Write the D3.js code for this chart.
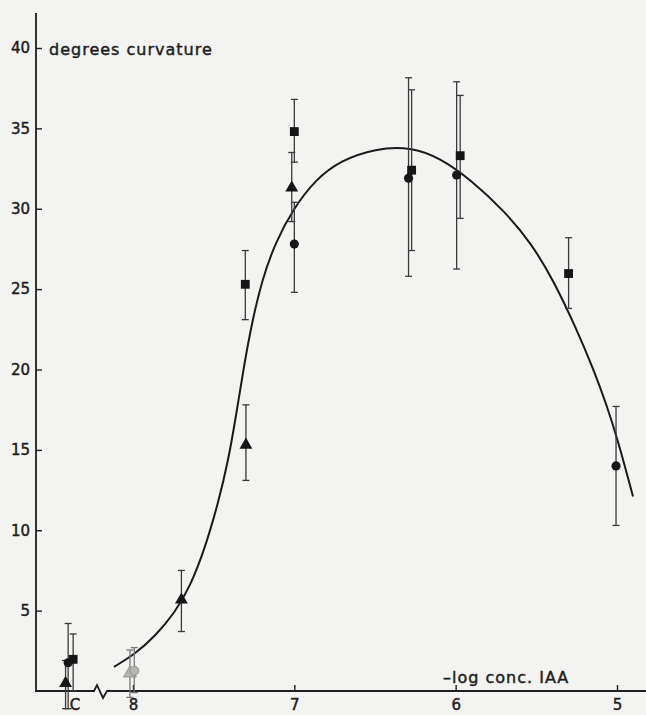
<!DOCTYPE html>
<html>
<head>
<meta charset="utf-8">
<script src="https://cdnjs.cloudflare.com/ajax/libs/d3/7.8.5/d3.min.js"></script>
<style>
	body { margin: 0; background: #f3f3f1; }
	#chart { width: 646px; height: 715px; }
	.lbl { font-family: "DejaVu Sans", sans-serif; font-size: 15px; fill: #1e1e1e; stroke: #1e1e1e; stroke-width: 0.45px; }
	.big { font-size: 16px; letter-spacing: 1px; }
</style>
</head>
<body>
<div id="chart"></div>
<script>
// tick values
var xTicks = [8, 7, 6, 5];
var yTicks = [5, 10, 15, 20, 25, 30, 35, 40];
var controlPos = 8.36; // where the "C" label sits on the -log scale

// squares: x (-log conc), mean, low, high
var sqX = [8.371, 7.304, 7.0, 6.273, 5.972, 5.30];
var sqY = [1.97, 25.3, 34.8, 32.4, 33.3, 25.97];
var sqLo = [0.0, 23.1, 32.9, 27.4, 29.4, 23.8];
var sqHi = [3.55, 27.4, 36.8, 37.4, 37.05, 28.2];

// circles
var ciX = [8.402, 7.0, 6.292, 5.994, 5.006];
var ciY = [1.76, 27.8, 31.9, 32.1, 14.0];
var ciLo = [-1.1, 24.8, 25.8, 26.25, 10.3];
var ciHi = [4.2, 30.4, 38.15, 37.9, 17.7];

// triangles
var trX = [8.418, 7.70, 7.30, 7.016];
var trY = [0.48, 5.67, 15.3, 31.3];
var trLo = [-1.1, 3.7, 13.1, 29.2];
var trHi = [1.9, 7.5, 17.8, 33.5];

// pale (open) symbols at 10^-8
var paleX = [8.019, 7.992];
var paleY = [1.1, 1.26];
var paleLo = [-0.4, -0.1];
var paleHi = [2.55, 2.7];
var paleType = ["triangle", "circle"];

// fitted curve
var curveX = [8.118, 7.988, 7.863, 7.739, 7.646, 7.553, 7.472, 7.410, 7.360, 7.311, 7.261, 7.199, 7.118, 7.006,
	6.870, 6.714, 6.497, 6.280, 6.093, 5.907, 5.702, 5.534, 5.391, 5.255, 5.149, 5.068, 4.994, 4.901];
var curveY = [1.5, 2.3, 3.4, 4.9, 6.5, 8.9, 11.7, 14.3, 17.2, 20.3, 23.0, 25.6, 27.9, 30.0,
	31.8, 33.0, 33.75, 33.85, 33.15, 31.8, 29.9, 27.9, 25.5, 22.6, 20.1, 17.9, 15.6, 12.1];

var totalWidth = 646, totalHeight = 715;
var axisX = 36, axisY = 691, axisTop = 13;

var xScale = d3.scaleLinear().domain([8, 5]).range([133, 617]);
var yScale = d3.scaleLinear().domain([0, 40]).range([axisY, 48]);

var svg = d3.select("#chart").append("svg")
	.attr("width", totalWidth)
	.attr("height", totalHeight);

function zip(xs, ys, lo, hi, type) {
	return xs.map(function (x, i) {
		return { x: x, y: ys[i], lo: lo[i], hi: hi[i], type: Array.isArray(type) ? type[i] : type };
	});
}

var points = [].concat(
	zip(sqX, sqY, sqLo, sqHi, "square"),
	zip(ciX, ciY, ciLo, ciHi, "circle"),
	zip(trX, trY, trLo, trHi, "triangle"),
	zip(paleX, paleY, paleLo, paleHi, paleType).map(function (d) { d.pale = true; return d; })
);

// axes
var yAxis = d3.axisLeft(yScale)
	.tickValues(yTicks)
	.tickSizeInner(-6)
	.tickSizeOuter(0)
	.tickPadding(6);

var yAxisGroup = svg.append("g")
	.attr("transform", "translate(" + axisX + ",0)")
	.call(yAxis);
yAxisGroup.select(".domain").remove();
yAxisGroup.selectAll(".tick line").attr("stroke", "#1e1e1e").attr("stroke-width", 1.4);
yAxisGroup.selectAll(".tick text").attr("class", "lbl").attr("font-size", null).attr("font-family", null);

var xAxis = d3.axisBottom(xScale)
	.tickValues(xTicks)
	.tickFormat(d3.format("d"))
	.tickSizeInner(-6)
	.tickSizeOuter(0)
	.tickPadding(8);

var xAxisGroup = svg.append("g")
	.attr("transform", "translate(0," + axisY + ")")
	.call(xAxis);
xAxisGroup.select(".domain").remove();
xAxisGroup.selectAll(".tick line").attr("stroke", "#1e1e1e").attr("stroke-width", 1.4);
xAxisGroup.selectAll(".tick text").attr("class", "lbl").attr("font-size", null).attr("font-family", null);

// axis lines, with the break between control and 10^-8
svg.append("path")
	.attr("d", "M" + axisX + "," + axisTop + "V" + axisY +
		"H94L97,685L103,698L107," + axisY + "H" + totalWidth)
	.attr("fill", "none")
	.attr("stroke", "#1e1e1e")
	.attr("stroke-width", 1.8);

svg.append("text")
	.attr("class", "lbl")
	.attr("x", xScale(controlPos))
	.attr("y", axisY + 8)
	.attr("dy", "0.71em")
	.attr("text-anchor", "middle")
	.text("C");

svg.append("text")
	.attr("class", "lbl big")
	.attr("x", 49)
	.attr("y", 55)
	.text("degrees curvature");

svg.append("text")
	.attr("class", "lbl big")
	.attr("x", 443)
	.attr("y", 683)
	.text("\u2013log conc. IAA");

// fitted curve
var line = d3.line()
	.x(function (d) { return xScale(d[0]); })
	.y(function (d) { return yScale(d[1]); })
	.curve(d3.curveBasis);

svg.append("path")
	.datum(curveX.map(function (x, i) { return [x, curveY[i]]; }))
	.attr("d", line)
	.attr("fill", "none")
	.attr("stroke", "#1a1a1a")
	.attr("stroke-width", 2);

// error bars
var bars = svg.append("g");
var cap = 3.5;
points.forEach(function (d) {
	var cx = xScale(d.x);
	var col = d.pale ? "#777" : "#3a3a3a";
	bars.append("line")
		.attr("x1", cx).attr("x2", cx)
		.attr("y1", yScale(d.hi)).attr("y2", yScale(d.lo))
		.attr("stroke", col).attr("stroke-width", 1.3);
	[d.hi, d.lo].forEach(function (v) {
		bars.append("line")
			.attr("x1", cx - cap).attr("x2", cx + cap)
			.attr("y1", yScale(v)).attr("y2", yScale(v))
			.attr("stroke", col).attr("stroke-width", 1.3);
	});
});

// markers
var symbolType = { square: d3.symbolSquare, circle: d3.symbolCircle, triangle: d3.symbolTriangle };
var symbolSize = { square: 78, circle: 66, triangle: 72 };

svg.append("g").selectAll("path")
	.data(points)
	.enter()
	.append("path")
	.attr("transform", function (d) { return "translate(" + xScale(d.x) + "," + yScale(d.y) + ")"; })
	.attr("d", function (d) { return d3.symbol().type(symbolType[d.type]).size(symbolSize[d.type])(); })
	.attr("fill", function (d) { return d.pale ? "#b4b4b2" : "#161616"; })
	.attr("stroke", function (d) { return d.pale ? "#888" : "none"; })
	.attr("stroke-width", 0.8);
</script>
</body>
</html>
